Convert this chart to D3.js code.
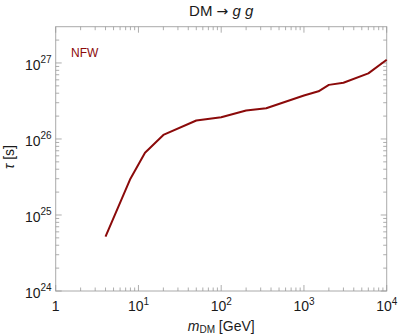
<!DOCTYPE html>
<html>
<head>
<meta charset="utf-8">
<script src="https://cdn.jsdelivr.net/npm/d3@7"></script>
<style>
  body { margin: 0; background: #fff; }
  svg { font-family: "Liberation Sans", Arial, sans-serif; }
</style>
</head>
<body>
<svg id="chart" width="399" height="336"></svg>
<script>
  // mass [GeV] and lifetime bound [s], NFW profile
  let masses = [4, 8, 12, 20, 50, 100, 200, 350, 1000, 1500, 2000, 3000, 6000, 10000];
  let lifetimes = [5.2e24, 3.0e25, 6.6e25, 1.13e26, 1.75e26, 1.93e26, 2.37e26, 2.54e26,
    3.73e26, 4.24e26, 5.15e26, 5.5e26, 7.3e26, 1.1e27];
  let xTicks = [1, 10, 100, 1000, 10000];
  let yTicks = [1e24, 1e25, 1e26, 1e27];

  let margin = { left: 55.7, right: 12.3, top: 26.7, bottom: 45 },
    width = 399, height = 336,
    svg = d3.select('#chart');

  let x = d3.scaleLog().domain([1, 1e4]).range([margin.left, width - margin.right]);
  let y = d3.scaleLog().domain([1e24, 3e27]).range([height - margin.bottom, margin.top]);

  let frameColor = '#aaa', tickColor = '#999', textColor = '#1a1a1a';

  // minor ticks for each decade
  function minors(domain) {
    let out = [];
    let lo = Math.floor(Math.log10(domain[0])), hi = Math.ceil(Math.log10(domain[1]));
    for (let e = lo; e <= hi; e++) {
      for (let m = 2; m <= 9; m++) {
        let v = m * Math.pow(10, e);
        if (v >= domain[0] && v <= domain[1]) out.push(v);
      }
    }
    return out;
  }

  let x0 = x.range()[0], x1 = x.range()[1], y0 = y.range()[0], y1 = y.range()[1];

  // frame
  svg.append('rect')
    .attr('x', x0).attr('y', y1)
    .attr('width', x1 - x0).attr('height', y0 - y1)
    .attr('fill', 'none').attr('stroke', frameColor).attr('stroke-width', 1);

  let ticks = svg.append('g').attr('stroke', tickColor).attr('stroke-width', 0.8);

  function xTick(v, len) {
    ticks.append('line').attr('x1', x(v)).attr('x2', x(v)).attr('y1', y0).attr('y2', y0 - len);
    ticks.append('line').attr('x1', x(v)).attr('x2', x(v)).attr('y1', y1).attr('y2', y1 + len);
  }
  function yTick(v, len) {
    ticks.append('line').attr('y1', y(v)).attr('y2', y(v)).attr('x1', x0).attr('x2', x0 + len);
    ticks.append('line').attr('y1', y(v)).attr('y2', y(v)).attr('x1', x1).attr('x2', x1 - len);
  }
  xTicks.forEach(v => xTick(v, 6));
  minors(x.domain()).forEach(v => xTick(v, 3.5));
  yTicks.forEach(v => yTick(v, 6));
  minors(y.domain()).forEach(v => yTick(v, 3.5));

  // tick labels
  let fs = 14, sup = 10;
  xTicks.forEach(v => {
    let e = Math.round(Math.log10(v));
    let t = svg.append('text')
      .attr('x', x(v)).attr('y', y0 + 20)
      .attr('text-anchor', 'middle')
      .attr('font-size', fs).attr('fill', textColor);
    if (e == 0) {
      t.text('1');
    } else {
      t.append('tspan').text('10');
      t.append('tspan').attr('dy', -6).attr('font-size', sup).text(e);
    }
  });
  yTicks.forEach(v => {
    let e = Math.round(Math.log10(v));
    let t = svg.append('text')
      .attr('x', x0 - 4).attr('y', y(v) + 7)
      .attr('text-anchor', 'end')
      .attr('font-size', fs).attr('fill', textColor);
    t.append('tspan').text('10');
    t.append('tspan').attr('dy', -7).attr('font-size', sup).text(e);
  });

  // axis titles
  let xl = svg.append('text')
    .attr('x', (x0 + x1) / 2).attr('y', 331)
    .attr('text-anchor', 'middle').attr('font-size', fs).attr('fill', textColor);
  xl.append('tspan').attr('font-style', 'italic').text('m');
  xl.append('tspan').attr('font-size', 10).attr('dy', 2).text('DM');
  xl.append('tspan').attr('dy', -2).text(' [GeV]');

  svg.append('text')
    .attr('transform', 'translate(14,157) rotate(-90)')
    .attr('text-anchor', 'middle').attr('font-size', fs).attr('fill', textColor)
    .html('<tspan font-style="italic">τ</tspan> [s]');

  let title = svg.append('text')
    .attr('x', (x0 + x1) / 2).attr('y', 16)
    .attr('text-anchor', 'middle').attr('font-size', 15).attr('fill', textColor);
  title.append('tspan').text('DM ');
  title.append('tspan').attr('font-family', 'DejaVu Sans').attr('font-size', 14).text('→');
  title.append('tspan').attr('font-style', 'italic').text(' g g');

  // curve
  let pts = masses.map((m, i) => [m, lifetimes[i]]);
  svg.append('path')
    .datum(pts)
    .attr('fill', 'none')
    .attr('stroke', '#8b0a0a')
    .attr('stroke-width', 2)
    .attr('stroke-linejoin', 'round')
    .attr('d', d3.line().x(d => x(d[0])).y(d => y(d[1])));

  svg.append('text')
    .attr('x', 71).attr('y', 57)
    .attr('font-size', 12).attr('fill', '#8b0a0a')
    .text('NFW');
</script>
</body>
</html>
